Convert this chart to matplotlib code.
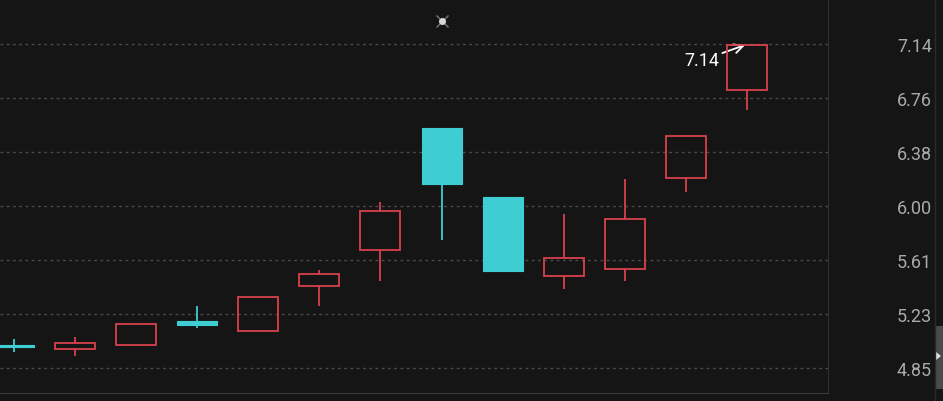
import numpy as np
import matplotlib.pyplot as plt
from matplotlib.patches import Rectangle, Polygon

# daily candles
opens = [5.010, 4.984, 5.013, 5.182, 5.111, 5.429, 5.684, 6.546, 6.059, 5.500, 5.550, 6.193, 6.815]
closes = [5.000, 5.027, 5.161, 5.154, 5.352, 5.514, 5.960, 6.150, 5.536, 5.627, 5.903, 6.490, 7.133]
highs = [5.055, 5.069, 5.161, 5.288, 5.352, 5.543, 6.023, 6.546, 6.059, 5.938, 6.186, 6.490, 7.133]
lows = [4.963, 4.935, 5.013, 5.133, 5.111, 5.288, 5.465, 5.755, 5.536, 5.408, 5.465, 6.094, 6.674]
tick_labels = ['4.85', '5.23', '5.61', '6.00', '6.38', '6.76', '7.14']
peak_label = '7.14'

bg = '#151515'
up_col = '#d9414d'
down_col = '#3dcdd2'
body_w = 0.655

fig = plt.figure(figsize=(9.43, 4.02), dpi=100, facecolor=bg)
ax = fig.add_axes([0, 8 / 402, 828 / 943, 394 / 402])
ax.set_facecolor(bg)

idx = np.arange(len(opens))
for i in idx:
    o, c, h, l = opens[i], closes[i], highs[i], lows[i]
    top, bot = max(o, c), min(o, c)
    if c >= o:
        # hollow red candle, wick stops at the body
        ax.vlines(i, top, h, color=up_col, lw=1.3, zorder=3)
        ax.vlines(i, l, bot, color=up_col, lw=1.3, zorder=3)
        ax.add_patch(Rectangle((i - body_w / 2, bot), body_w, max(top - bot, 0.004),
                               facecolor='none', edgecolor=up_col, lw=1.3, zorder=4))
    else:
        ax.vlines(i, l, h, color=down_col, lw=1.3, zorder=3)
        ax.add_patch(Rectangle((i - body_w / 2, bot), body_w, max(top - bot, 0.012),
                               facecolor=down_col, edgecolor=down_col, lw=0.8, zorder=4))

ax.set_xlim(-0.229, 13.327)
ax.set_ylim(4.673, 7.458)

tick_vals = np.linspace(4.85, 7.14, len(tick_labels))
ax.set_yticks(tick_vals)
ax.set_yticklabels(tick_labels)
ax.yaxis.tick_right()
ax.tick_params(axis='y', length=0, pad=75, colors='#aaaaaa', labelsize=13)
for t in ax.get_yticklabels():
    t.set_horizontalalignment('right')
    t.set_fontfamily('Roboto')
ax.set_xticks([])
ax.grid(axis='y', color='#4a4a4a', lw=1.0, ls=(0, (2, 2.5)))
ax.set_axisbelow(True)

for s in ['top', 'left']:
    ax.spines[s].set_visible(False)
ax.spines['right'].set_color('#303030')
ax.spines['bottom'].set_color('#3a3a3a')

# label on the top of the last candle
ax.annotate(peak_label, xy=(idx[-1] - 0.03, highs[-1]), xytext=(-31, -11),
            textcoords='offset points', ha='center', va='center', color='white',
            fontsize=13, fontfamily='Roboto',
            arrowprops=dict(arrowstyle='->,head_length=0.5,head_width=0.25', color='white',
                            lw=1.3, shrinkA=0, shrinkB=0))

# small light marker at the top
ax.plot([(442 - 14) / 61.08], [7.458 - 22 * 0.0070679], marker='o', ms=4,
        color='#d8d8d8', zorder=5, clip_on=False)
ax.plot([(442 - 14) / 61.08], [7.458 - 22 * 0.0070679], marker='x', ms=8,
        color='#777777', mew=1, zorder=4, clip_on=False)

# right edge scroll strip
fig.add_artist(plt.Line2D([935 / 943, 935 / 943], [0, 1], color='#2a2a2a', lw=1))
fig.add_artist(Rectangle((936 / 943, 1 - 390 / 402), 7 / 943, 63 / 402,
                         transform=fig.transFigure, facecolor='#4a4a4a', edgecolor='none'))
fig.add_artist(Polygon([[936 / 943, 1 - 353 / 402], [936 / 943, 1 - 361 / 402], [941 / 943, 1 - 357 / 402]],
                       closed=True, transform=fig.transFigure, facecolor='#e0e0e0', edgecolor='none'))

fig.savefig('out.png', dpi=100, facecolor=bg)
